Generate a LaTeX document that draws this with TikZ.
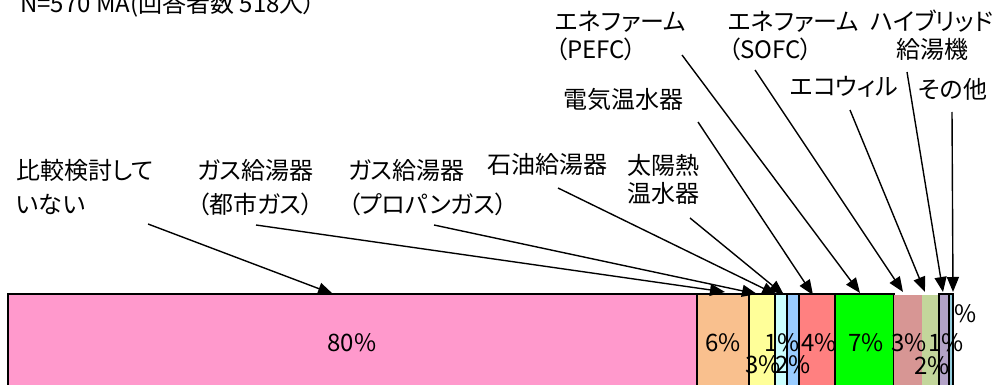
\documentclass[tikz,border=0pt]{standalone}
\usepackage{fontspec}
\setmainfont{Noto Sans CJK JP}[RawFeature=+palt]
\usetikzlibrary{arrows.meta}

\definecolor{cpink}{HTML}{FF99CC}
\definecolor{corange}{HTML}{F9C08E}
\definecolor{cyellow}{HTML}{FFFF99}
\definecolor{ccyan}{HTML}{CCFFFF}
\definecolor{cblue}{HTML}{99CCFF}
\definecolor{cred}{HTML}{FF8080}
\definecolor{cgreen}{HTML}{00FF00}
\definecolor{crose}{HTML}{D79694}
\definecolor{csage}{HTML}{C3D69B}
\definecolor{cpurple}{HTML}{B3A2C7}
\definecolor{cteal}{HTML}{93CDDD}

\begin{document}
\begin{tikzpicture}[x=1pt, y=-1pt]
 \tikzstyle{bar}=[draw=black, line width=1.5pt]
 \tikzstyle{lbl}=[font=\fontsize{24}{28}\selectfont, inner sep=0pt]
 \tikzstyle{pct}=[font=\fontsize{24}{28}\selectfont, inner sep=0pt, anchor=base]
 \tikzstyle{arr}=[-{Triangle[length=15pt, width=12pt]}, line width=1.4pt]

 \useasboundingbox (0,0) rectangle (1004,385);
 \clip (0,0) rectangle (1004,385);

 % Bar
 \draw [bar, fill=cpink] (8,294) rectangle (697,400);
 \draw [bar, fill=corange] (697,294) rectangle (749,400);
 \draw [bar, fill=cyellow] (749,294) rectangle (775,400);
 \draw [bar, fill=ccyan] (775,294) rectangle (787,400);
 \draw [bar, fill=cblue] (787,294) rectangle (799,400);
 \draw [bar, fill=cred] (799,294) rectangle (835,400);
 \draw [bar, fill=cgreen] (835,294) rectangle (894,400);
 \fill [crose] (894,295) rectangle (922,400);
 \fill [csage] (922,295) rectangle (939,400);
 \draw [bar, fill=cpurple] (939,294) rectangle (949,400);
 \draw [bar, fill=cteal] (949,294) rectangle (953,400);

 % Shares
 \node (pnone) at (352,351) [pct] {80\%};
 \node (pcity) at (723,351) [pct] {6\%};
 \node (ppropane) at (763,373) [pct] {3\%};
 \node (poil) at (782,351) [pct] {1\%};
 \node (psolar) at (793,373) [pct] {2\%};
 \node (pelec) at (819,351) [pct] {4\%};
 \node (ppefc) at (866,351) [pct] {7\%};
 \node (psofc) at (909,351) [pct] {3\%};
 \node (pecowill) at (932,374) [pct] {2\%};
 \node (phybrid) at (946,351) [pct] {1\%};
 \node (pother) at (966,322) [pct] {\%};

 % Title
 \node (ntitle) at (20,13) [lbl, anchor=base west] {N=570 MA(回答者数 518人）};

 % Labels (base = last line)
 \node (nnone) at (16,213) [lbl, anchor=base west, align=left] {比較検討して\\[6pt]いない};
 \node (ncity) at (197,213) [lbl, anchor=base west, align=left] {ガス給湯器\\[6pt]（都市ガス）};
 \node (npropane) at (348,213) [lbl, anchor=base west, align=left] {ガス給湯器\\[6pt]（プロパンガス）};
 \node (noil) at (487,174) [lbl, anchor=base west] {石油給湯器};
 \node (nsolar) at (627,202) [lbl, anchor=base west, align=left] {太陽熱\\温水器};
 \node (nelec) at (563,109) [lbl, anchor=base west] {電気温水器};
 \node (npefc) at (555,59) [lbl, anchor=base west, align=left] {エネファーム\\（PEFC）};
 \node (nsofc) at (728,59) [lbl, anchor=base west, align=left] {エネファーム\\（SOFC）};
 \node (necowill) at (790,96) [lbl, anchor=base west] {エコウィル};
 \node (nhybrid) at (932,59) [lbl, anchor=base, align=center] {ハイブリッド\\給湯機};
 \node (nother) at (918,99) [lbl, anchor=base west] {その他};

 % Line ends
 \coordinate (snone) at (148,224);
 \coordinate (scity) at (256,225);
 \coordinate (spropane) at (434,225);
 \coordinate (soil) at (558,188);
 \coordinate (ssolar) at (690,218);
 \coordinate (selec) at (698,122);
 \coordinate (spefc) at (682,55);
 \coordinate (ssofc) at (755,70);
 \coordinate (secowill) at (850,110);
 \coordinate (shybrid) at (907,72);
 \coordinate (sother) at (952,112);

 \coordinate (tnone) at (333,294);
 \coordinate (tcity) at (725,292);
 \coordinate (tpropane) at (757,294);
 \coordinate (toil) at (777,295);
 \coordinate (tsolar) at (784,295);
 \coordinate (telec) at (813,295);
 \coordinate (tpefc) at (860,293);
 \coordinate (tsofc) at (903,292);
 \coordinate (tecowill) at (925,292);
 \coordinate (thybrid) at (943,292);
 \coordinate (tother) at (953,292);

 % Arrows
 \draw [arr] (snone) -- (tnone);
 \draw [arr] (scity) -- (tcity);
 \draw [arr] (spropane) -- (tpropane);
 \draw [arr] (soil) -- (toil);
 \draw [arr] (ssolar) -- (tsolar);
 \draw [arr] (selec) -- (telec);
 \draw [arr] (spefc) -- (tpefc);
 \draw [arr] (ssofc) -- (tsofc);
 \draw [arr] (secowill) -- (tecowill);
 \draw [arr] (shybrid) -- (thybrid);
 \draw [arr] (sother) -- (tother);

\end{tikzpicture}
\end{document}
